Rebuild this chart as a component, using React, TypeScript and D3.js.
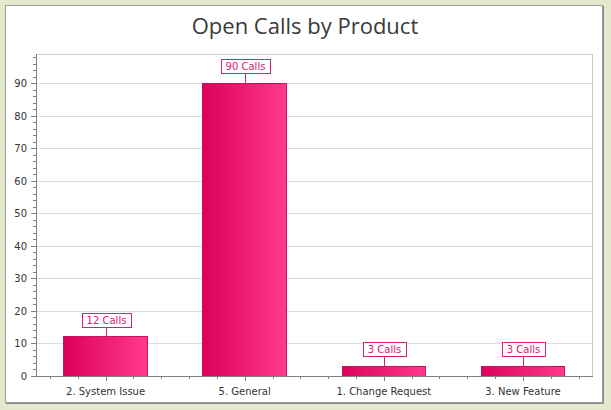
import { useEffect, useRef } from 'react';
import * as d3 from 'd3';

// chart data
const categories = ['2. System Issue', '5. General', '1. Change Request', '3. New Feature'];
const calls = [12, 90, 3, 3];
const yTicks = [0, 10, 20, 30, 40, 50, 60, 70, 80, 90];

const W = 611;
const H = 410;
const margin = { left: 36, right: 18, top: 54, bottom: 34 };

const App: React.FC = () => {
  const svgRef = useRef<SVGSVGElement | null>(null);

  useEffect(() => {
    if (!svgRef.current) return;
    const svg = d3.select(svgRef.current);
    svg.selectAll('*').remove();

    const x0 = margin.left;
    const x1 = W - margin.right - 0.5;
    const y0 = H - margin.bottom;
    const y1 = margin.top;

    // background + panel
    svg.append('rect').attr('width', W).attr('height', H).attr('fill', '#e4e8cc');
    svg
      .append('rect')
      .attr('x', 6)
      .attr('y', 6)
      .attr('width', 598)
      .attr('height', 398)
      .attr('fill', '#888');
    svg
      .append('rect')
      .attr('x', 5.5)
      .attr('y', 5.5)
      .attr('width', 597)
      .attr('height', 397)
      .attr('fill', '#fff')
      .attr('stroke', '#a0a0a0');

    const defs = svg.append('defs');
    const grad = defs.append('linearGradient').attr('id', 'barGrad').attr('x1', '0%').attr('x2', '100%');
    grad.append('stop').attr('offset', '0%').attr('stop-color', '#dc005c');
    grad.append('stop').attr('offset', '100%').attr('stop-color', '#ff3a8c');

    svg
      .append('text')
      .attr('x', 305)
      .attr('y', 34)
      .attr('text-anchor', 'middle')
      .attr('font-family', 'Open Sans, sans-serif')
      .attr('font-size', 22)
      .attr('fill', '#3a3a3a')
      .text('Open Calls by Product');

    const x = d3.scaleBand().domain(categories).range([x0, x1]).paddingInner(0).paddingOuter(0);
    const y = d3.scaleLinear().domain([0, 99]).range([y0, y1]);

    // grid
    const g = svg.append('g').attr('shape-rendering', 'crispEdges');
    yTicks.slice(1).forEach((t) => {
      g.append('line')
        .attr('x1', x0)
        .attr('x2', x1)
        .attr('y1', Math.round(y(t)) + 0.5)
        .attr('y2', Math.round(y(t)) + 0.5)
        .attr('stroke', '#dcdcdc');
    });
    // plot border top/right
    g.append('line').attr('x1', x0).attr('x2', x1).attr('y1', y1 + 0.5).attr('y2', y1 + 0.5).attr('stroke', '#d0d0d0');
    g.append('line').attr('x1', x1).attr('x2', x1).attr('y1', y1).attr('y2', y0).attr('stroke', '#c8c8c8');

    // bars
    categories.forEach((c, i) => {
      const bw = x.bandwidth() * 0.6;
      const bx = (x(c) as number) + (x.bandwidth() - bw) / 2;
      const by = y(calls[i]);
      g.append('rect')
        .attr('x', bx)
        .attr('y', by)
        .attr('width', bw)
        .attr('height', y0 - by)
        .attr('fill', 'url(#barGrad)')
        .attr('stroke', '#c8145e')
        .attr('stroke-width', 1);

      const cx = Math.round((x(c) as number) + x.bandwidth() / 2) + 0.5;
      const label = `${calls[i]} Calls`;
      const lw = label.length * 5.6 + 4;
      const boxBottom = by - 10;
      g.append('line')
        .attr('x1', cx)
        .attr('x2', cx)
        .attr('y1', boxBottom)
        .attr('y2', by)
        .attr('stroke', '#d42070');
      g.append('rect')
        .attr('x', Math.round(cx - lw / 2))
        .attr('y', Math.round(boxBottom - 14) + 0.5)
        .attr('width', Math.round(lw))
        .attr('height', 14)
        .attr('fill', '#fff')
        .attr('stroke', '#d42070');
      svg
        .append('text')
        .attr('x', cx)
        .attr('y', boxBottom - 3)
        .attr('text-anchor', 'middle')
        .attr('font-family', 'DejaVu Sans, sans-serif')
        .attr('font-size', 10)
        .attr('fill', '#d42070')
        .text(label);
    });

    // y axis
    g.append('line').attr('x1', x0 + 0.5).attr('x2', x0 + 0.5).attr('y1', y1).attr('y2', y0).attr('stroke', '#808080');
    d3.range(0, 100, 2).forEach((t) => {
      const major = t % 10 === 0;
      const yy = Math.round(y(t)) + 0.5;
      g.append('line')
        .attr('x1', x0 - (major ? 5 : 3))
        .attr('x2', x0)
        .attr('y1', yy)
        .attr('y2', yy)
        .attr('stroke', '#808080');
    });
    yTicks.forEach((t) => {
      svg
        .append('text')
        .attr('x', 27)
        .attr('y', y(t) + 4)
        .attr('text-anchor', 'end')
        .attr('font-family', 'DejaVu Sans, sans-serif')
        .attr('font-size', 10)
        .attr('fill', '#333')
        .text(t);
    });

    // x axis
    g.append('line').attr('x1', x0).attr('x2', x1).attr('y1', y0 + 0.5).attr('y2', y0 + 0.5).attr('stroke', '#808080');
    categories.forEach((c) => {
      const cx = (x(c) as number) + x.bandwidth() / 2;
      const step = x.bandwidth() / 5;
      [-2, -1, 0, 1, 2].forEach((k) => {
        const tx = Math.round(cx + k * step) + 0.5;
        g.append('line')
          .attr('x1', tx)
          .attr('x2', tx)
          .attr('y1', y0)
          .attr('y2', y0 + (k === 0 ? 5 : 3))
          .attr('stroke', '#808080');
      });
      svg
        .append('text')
        .attr('x', cx)
        .attr('y', y0 + 19)
        .attr('text-anchor', 'middle')
        .attr('font-family', 'DejaVu Sans, sans-serif')
        .attr('font-size', 10)
        .attr('fill', '#333')
        .text(c);
    });
  }, []);

  return (
    <svg
      ref={svgRef}
      width={W}
      height={H}
      style={{ position: 'absolute', left: 0, top: 0 }}
    />
  );
};

export default App;
